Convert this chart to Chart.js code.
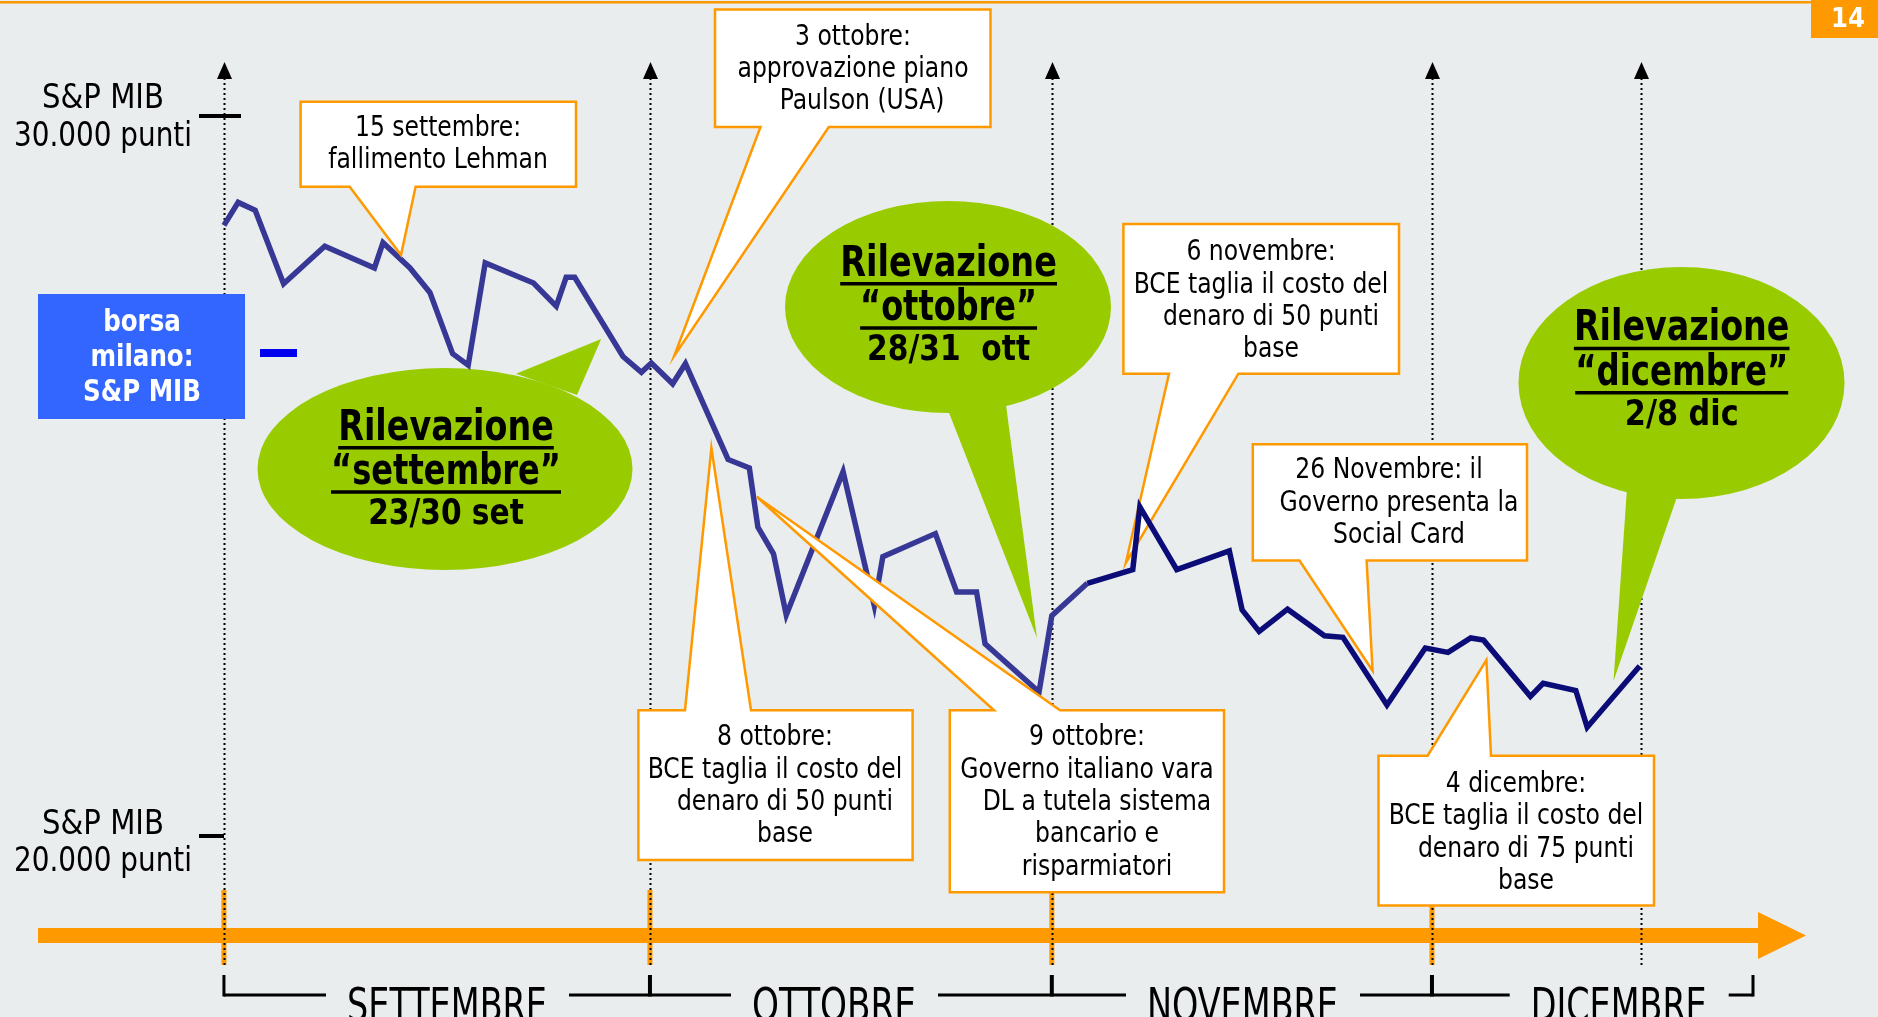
<!DOCTYPE html>
<html lang="it">
<head>
<meta charset="utf-8">
<title>S&amp;P MIB settembre - dicembre</title>
<script src="https://cdn.jsdelivr.net/npm/chart.js@4.4.1/dist/chart.umd.min.js"></script>
<style>
  html, body { margin: 0; padding: 0; background: #e9eded; overflow: hidden; }
  canvas { display: block; }
</style>
</head>
<body>
<canvas id="grafico" width="1878" height="1017"></canvas>
<script>
// Andamento S&P MIB, x = giorni dall'inizio di settembre
const giorniSetOtt = [0, 1, 2.2, 4.2, 7.1, 10.6, 11.2, 13.1, 14.5, 16.1, 17.2, 18.4, 21.8, 23.4, 24.1, 24.7, 28.1, 29.4, 30.1, 31.6,
    32.5, 35.5, 37, 37.6, 38.7, 39.6, 43.6, 45.8, 46.4, 50.1, 51.6, 53, 53.6, 57.4, 58.3, 60.8];
const valoriSetOtt = [28480, 28800, 28690, 27670, 28190, 27890, 28240, 27890, 27550, 26700, 26540, 27960, 27680, 27360, 27760, 27760, 26660, 26440, 26570, 26280,
    26560, 25230, 25110, 24290, 23920, 23070, 25060, 23200, 23880, 24200, 23390, 23390, 22670, 22000, 23060, 23510];
const giorniNovDic = [60.8, 64.0, 64.5, 67.1, 70.8, 71.7, 72.9, 74.9, 77.5, 78.8, 81.9, 84.6, 86.2, 87.8, 88.7, 92.0, 92.9, 95.2, 96.0, 99.7];
const valoriNovDic = [23510, 23700, 24570, 23700, 23960, 23140, 22840, 23150, 22780, 22760, 21820, 22610, 22550, 22750, 22720, 21940, 22120, 22020, 21510, 22360];

// Inizio dei mesi sull'asse x, e fine della serie
const inizioMesi = [0, 30, 58.3, 85.07];
const fineSerie = 99.8;
const nomiMesi = ['SETTEMBRE', 'OTTOBRE', 'NOVEMBRE', 'DICEMBRE'];

// Tacche dell'asse y
const valoriTacche = [30000, 20000];
const etichetteTacche = [['S&P MIB', '30.000 punti'], ['S&P MIB', '20.000 punti']];

// Limiti degli assi
const asseX = { min: -15.77, max: 116.48 };
const asseY = { min: 17486, max: 31611 };

const FONT = '"DejaVu Sans Condensed", "DejaVu Sans", sans-serif';
const ARANCIO = '#ff9900';
const VERDE = '#99cc00';

// Riquadri con fumetto (coordinate in pixel)
const riquadri = [
    { box: [300.6, 101.8, 576, 186.8], lato: 'basso', base: [349.7, 415.6], punta: [401, 255], cx: 438, y0: 128, sopra: true,
      righe: [['15 settembre:', 0], ['fallimento Lehman', 0]] },
    { box: [715, 9.6, 990.5, 127], lato: 'basso', base: [760.5, 828.8], punta: [674.3, 355.7], cx: 853, y0: 37,
      righe: [['3 ottobre:', 0], ['approvazione piano', 0], ['Paulson (USA)', 9]] },
    { box: [1123.4, 224, 1399, 373.7], lato: 'basso', base: [1169, 1238.4], punta: [1125.8, 563], cx: 1261, y0: 252.7,
      righe: [['6 novembre:', 0], ['BCE taglia il costo del', 0], ['denaro di 50 punti', 10], ['base', 10]] },
    { box: [1252.8, 444.3, 1527, 560.5], lato: 'basso', base: [1299.5, 1366.6], punta: [1372.6, 670.7], cx: 1399, y0: 470.7,
      righe: [['26 Novembre: il', -10], ['Governo presenta la', 0], ['Social Card', 0]] },
    { box: [638.4, 710.2, 912.6, 860], lato: 'alto', base: [685, 751], punta: [711.4, 448], cx: 775, y0: 737.8,
      righe: [['8 ottobre:', 0], ['BCE taglia il costo del', 0], ['denaro di 50 punti', 10], ['base', 10]] },
    { box: [949.8, 710.2, 1224, 892.3], lato: 'alto', base: [994, 1060], punta: [757, 497], cx: 1087, y0: 737.8, sopra: true,
      righe: [['9 ottobre:', 0], ['Governo italiano vara', 0], ['DL a tutela sistema', 10], ['bancario e', 10], ['risparmiatori', 10]] },
    { box: [1378.5, 755.7, 1654, 905.4], lato: 'alto', base: [1427.6, 1491], punta: [1486.4, 660], cx: 1516, y0: 784.5,
      righe: [['4 dicembre:', 0], ['BCE taglia il costo del', 0], ['denaro di 75 punti', 10], ['base', 10]] }
];

// Fumetti verdi "Rilevazione"
const fumetti = [
    { c: [445, 469], r: [187.5, 101], coda: [[516, 373.7], [601.2, 339], [577, 395]], cx: 446,
      ys: [428.8, 473, 515], larghezze: [215.6, 230, 155.7], testi: ['Rilevazione', '\u201csettembre\u201d', '23/30 set'] },
    { c: [948, 307], r: [163, 106], coda: [[946, 405], [1037, 638], [1006, 405]], cx: 948.6,
      ys: [264.7, 309, 351], larghezze: [216.8, 177, 163], testi: ['Rilevazione', '\u201cottobre\u201d', '28/31  ott'] },
    { c: [1681.5, 383], r: [163, 116], coda: [[1629, 460], [1613.5, 681], [1689, 462]], cx: 1681.7,
      ys: [329.4, 373.7, 415.6], larghezze: [215.6, 213, 113.8], testi: ['Rilevazione', '\u201cdicembre\u201d', '2/8 dic'] }
];

// Scrive un testo un po' compresso in orizzontale (come un Tahoma)
function testoStretto(ctx, t, x, y, fattore, massimo) {
    let w = ctx.measureText(t).width * fattore;
    if (massimo) w = Math.min(w, massimo);
    ctx.fillText(t, x, y, w);
    return w;
}

function disegnaRiquadro(ctx, r) {
    const [x0, y0, x1, y1] = r.box;
    ctx.beginPath();
    if (r.lato === 'basso') {
        ctx.moveTo(x0, y0);
        ctx.lineTo(x1, y0);
        ctx.lineTo(x1, y1);
        ctx.lineTo(r.base[1], y1);
        ctx.lineTo(r.punta[0], r.punta[1]);
        ctx.lineTo(r.base[0], y1);
        ctx.lineTo(x0, y1);
    } else {
        ctx.moveTo(x0, y0);
        ctx.lineTo(r.base[0], y0);
        ctx.lineTo(r.punta[0], r.punta[1]);
        ctx.lineTo(r.base[1], y0);
        ctx.lineTo(x1, y0);
        ctx.lineTo(x1, y1);
        ctx.lineTo(x0, y1);
    }
    ctx.closePath();
    ctx.fillStyle = '#ffffff';
    ctx.fill();
    ctx.strokeStyle = ARANCIO;
    ctx.lineWidth = 2.5;
    ctx.lineJoin = 'miter';
    ctx.stroke();

    ctx.fillStyle = '#000000';
    ctx.font = '29px ' + FONT;
    ctx.textAlign = 'center';
    ctx.textBaseline = 'middle';
    r.righe.forEach((riga, i) => {
        testoStretto(ctx, riga[0], r.cx + riga[1], r.y0 + i * 32.3, 0.9, x1 - x0 - 8);
    });
}

function disegnaFumetto(ctx, f) {
    ctx.fillStyle = VERDE;
    ctx.beginPath();
    ctx.ellipse(f.c[0], f.c[1], f.r[0], f.r[1], 0, 0, Math.PI * 2);
    ctx.fill();
    ctx.beginPath();
    ctx.moveTo(f.coda[0][0], f.coda[0][1]);
    ctx.lineTo(f.coda[1][0], f.coda[1][1]);
    ctx.lineTo(f.coda[2][0], f.coda[2][1]);
    ctx.closePath();
    ctx.fill();

    ctx.fillStyle = '#000000';
    ctx.strokeStyle = '#000000';
    ctx.textAlign = 'center';
    ctx.textBaseline = 'middle';
    f.testi.forEach((t, i) => {
        const size = i < 2 ? 42 : 35;
        ctx.font = 'bold ' + size + 'px ' + FONT;
        const w = testoStretto(ctx, t, f.cx, f.ys[i], 1, f.larghezze[i]);
        if (i < 2) {
            ctx.lineWidth = 3.5;
            ctx.beginPath();
            const yu = f.ys[i] + 19;
            ctx.moveTo(f.cx - w / 2, yu);
            ctx.lineTo(f.cx + w / 2, yu);
            ctx.stroke();
        }
    });
}

const decorazioni = {
    id: 'decorazioni',
    beforeDraw(chart) {
        const ctx = chart.ctx;
        const sx = chart.scales.x;
        const sy = chart.scales.y;
        ctx.save();

        // Sfondo
        ctx.fillStyle = '#e9eded';
        ctx.fillRect(0, 0, chart.width, chart.height);

        // Linea arancione in alto e numero pagina
        ctx.fillStyle = ARANCIO;
        ctx.fillRect(0, 1, 1812, 2.5);
        ctx.fillRect(1811, 0, 67, 38);
        ctx.fillStyle = '#ffffff';
        ctx.font = 'bold 27px ' + FONT;
        ctx.textAlign = 'center';
        ctx.textBaseline = 'middle';
        ctx.fillText('14', 1848, 20);

        // Freccia del tempo arancione
        ctx.fillStyle = ARANCIO;
        ctx.fillRect(38, 928, 1722, 15);
        ctx.beginPath();
        ctx.moveTo(1758, 912);
        ctx.lineTo(1806, 935.5);
        ctx.lineTo(1758, 959);
        ctx.closePath();
        ctx.fill();
        inizioMesi.forEach(m => {
            const x = sx.getPixelForValue(m);
            ctx.fillRect(x - 2.5, 890, 5, 75);
        });

        // Linee tratteggiate verticali con freccia
        const verticali = inizioMesi.concat([fineSerie]);
        verticali.forEach(m => {
            const x = Math.round(sx.getPixelForValue(m)) + 0.5;
            ctx.strokeStyle = '#000000';
            ctx.lineWidth = 2;
            ctx.setLineDash([2, 3]);
            ctx.beginPath();
            ctx.moveTo(x, 78);
            ctx.lineTo(x, 965);
            ctx.stroke();
            ctx.setLineDash([]);
            ctx.fillStyle = '#000000';
            ctx.beginPath();
            ctx.moveTo(x, 62);
            ctx.lineTo(x + 7.5, 79);
            ctx.lineTo(x - 7.5, 79);
            ctx.closePath();
            ctx.fill();
        });

        // Tacche ed etichette dell'asse y
        const offsetEtichette = [[-17, 21], [-11, 26]];
        const fineTacca = [241, 224];
        valoriTacche.forEach((v, i) => {
            const y = sy.getPixelForValue(v);
            ctx.fillStyle = '#000000';
            ctx.fillRect(199, y - 2, fineTacca[i] - 199, 4);
            ctx.font = '33px ' + FONT;
            ctx.textAlign = 'center';
            ctx.textBaseline = 'middle';
            testoStretto(ctx, etichetteTacche[i][0], 103, y + offsetEtichette[i][0], 1, 122);
            testoStretto(ctx, etichetteTacche[i][1], 103, y + offsetEtichette[i][1], 1, 178);
        });

        // Riquadro blu di legenda
        ctx.fillStyle = '#3366ff';
        ctx.fillRect(38, 294, 207, 125);
        ctx.fillStyle = '#ffffff';
        ctx.font = 'bold 31px ' + FONT;
        ctx.textAlign = 'center';
        ctx.textBaseline = 'middle';
        testoStretto(ctx, 'borsa', 142, 323, 0.88, 82);
        testoStretto(ctx, 'milano:', 142, 358, 0.88, 112);
        testoStretto(ctx, 'S&P MIB', 142, 393, 0.88, 128);
        ctx.fillStyle = '#0000ee';
        ctx.fillRect(260, 349, 37, 8);

        // Parentesi dei mesi in basso
        const centriMesi = [447, 834, 1242.5, 1618.7];
        const larghezzeMesi = [200, 164, 191, 176];
        const fineParentesi = 1753;
        ctx.font = '46px ' + FONT;
        ctx.textAlign = 'center';
        ctx.textBaseline = 'alphabetic';
        ctx.fillStyle = '#000000';
        let xa = sx.getPixelForValue(inizioMesi[0]);
        nomiMesi.forEach((nome, i) => {
            testoStretto(ctx, nome, centriMesi[i], 1021, 1, larghezzeMesi[i]);
            const gapSx = centriMesi[i] - larghezzeMesi[i] / 2 - 21;
            ctx.fillRect(xa, 993.5, gapSx - xa, 3);
            xa = centriMesi[i] + larghezzeMesi[i] / 2 + 22;
        });
        ctx.fillRect(xa, 993.5, fineParentesi - xa, 3);
        inizioMesi.forEach((m, i) => {
            const x = sx.getPixelForValue(m);
            ctx.fillRect(x - (i === 0 ? 1.5 : 2), 975, i === 0 ? 3 : 4, 21.5);
        });
        ctx.fillRect(fineParentesi - 1.5, 975, 3, 21.5);

        // Fumetti verdi
        fumetti.forEach(f => disegnaFumetto(ctx, f));

        // Riquadri sotto la linea
        riquadri.filter(r => !r.sopra).forEach(r => disegnaRiquadro(ctx, r));

        ctx.restore();
    },
    afterDatasetsDraw(chart) {
        const ctx = chart.ctx;
        ctx.save();
        riquadri.filter(r => r.sopra).forEach(r => disegnaRiquadro(ctx, r));
        ctx.restore();
    }
};

const datiSetOtt = giorniSetOtt.map((g, i) => ({ x: g, y: valoriSetOtt[i] }));
const datiNovDic = giorniNovDic.map((g, i) => ({ x: g, y: valoriNovDic[i] }));

new Chart(document.getElementById('grafico').getContext('2d'), {
    type: 'line',
    data: {
        datasets: [
            {
                label: 'S&P MIB set-ott',
                data: datiSetOtt,
                borderColor: '#373796',
                borderWidth: 5.5,
                pointRadius: 0,
                tension: 0,
                borderJoinStyle: 'miter'
            },
            {
                label: 'S&P MIB nov-dic',
                data: datiNovDic,
                borderColor: '#0c0c78',
                borderWidth: 5.5,
                pointRadius: 0,
                tension: 0,
                borderJoinStyle: 'miter'
            }
        ]
    },
    options: {
        responsive: false,
        devicePixelRatio: 1,
        animation: false,
        events: [],
        layout: { padding: 0 },
        plugins: {
            legend: { display: false },
            tooltip: { enabled: false }
        },
        scales: {
            x: { type: 'linear', display: false, min: asseX.min, max: asseX.max },
            y: { type: 'linear', display: false, min: asseY.min, max: asseY.max }
        }
    },
    plugins: [decorazioni]
});
</script>
</body>
</html>
